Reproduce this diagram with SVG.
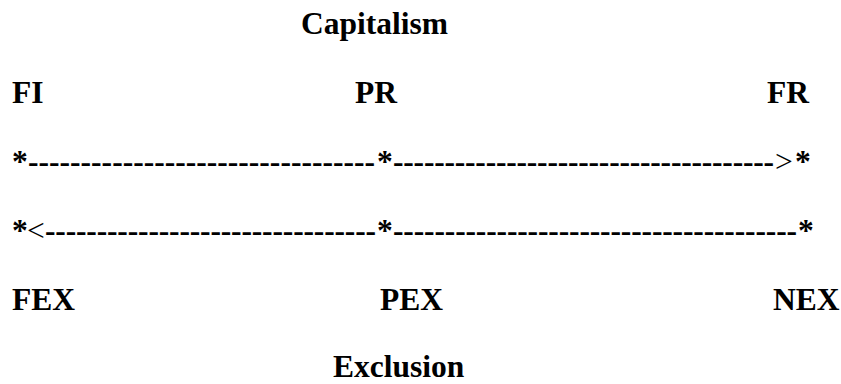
<svg xmlns="http://www.w3.org/2000/svg" width="841" height="384" viewBox="0 0 841 384">
<style>
text{font-family:"Liberation Serif","Times New Roman",serif;font-size:31.5px;fill:#000}
.b{font-weight:bold}
.r{font-weight:normal}
</style>
<rect width="841" height="384" fill="#fff"/>
<g id="capitalism"><text class="b" x="301" y="34">Capitalism</text></g>
<g id="FI"><text class="b" x="12" y="103">FI</text></g>
<g id="PR"><text class="b" x="355" y="103">PR</text></g>
<g id="FR"><text class="b" x="767" y="103">FR</text></g>
<g id="connectors">
<text class="b" x="12" y="172">*</text>
<text class="b" x="28" y="172" textLength="347" lengthAdjust="spacing">---------------------------------</text>
<text class="b" x="377" y="172">*</text>
<text class="b" x="393" y="172" textLength="381" lengthAdjust="spacing">-------------------------------------</text>
<text class="r" x="775" y="172">&gt;</text>
<text class="b" x="795" y="172">*</text>
<text class="b" x="12" y="241">*</text>
<text class="r" x="27" y="241">&lt;</text>
<text class="b" x="45" y="241" textLength="331" lengthAdjust="spacing">--------------------------------</text>
<text class="b" x="377" y="241">*</text>
<text class="b" x="393" y="241" textLength="404" lengthAdjust="spacing">---------------------------------------</text>
<text class="b" x="798" y="241">*</text>
</g>
<g id="FEX"><text class="b" x="12" y="310">FEX</text></g>
<g id="PEX"><text class="b" x="380" y="310">PEX</text></g>
<g id="NEX"><text class="b" x="773" y="310">NEX</text></g>
<g id="exclusion"><text class="b" x="333" y="377">Exclusion</text></g>
</svg>
